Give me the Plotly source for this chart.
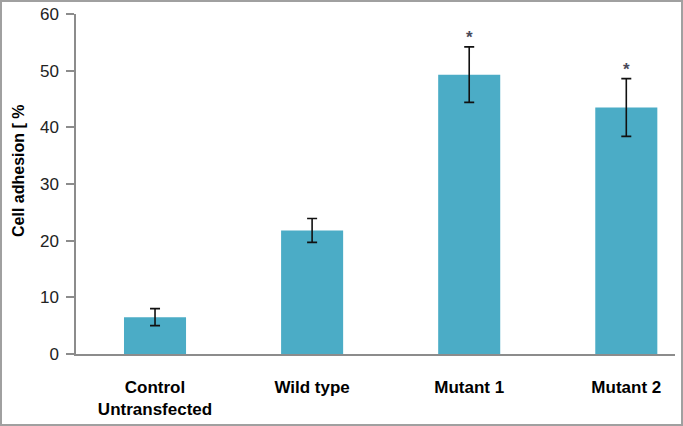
import plotly.graph_objects as go

categories = ["Control<br>Untransfected", "Wild type", "Mutant 1", "Mutant 2"]
adhesion = [6.5, 21.8, 49.3, 43.5]
error = [1.5, 2.1, 4.9, 5.1]
significant = ["", "", "*", "*"]
y_ticks = [0, 10, 20, 30, 40, 50, 60]

fig = go.Figure()
fig.add_trace(go.Bar(
    x=list(range(len(categories))), y=adhesion,
    width=0.395,
    marker=dict(color="#4BACC6", line=dict(width=0)),
    error_y=dict(type="data", array=error, visible=True, color="#111111",
                 thickness=1.6, width=5),
    showlegend=False,
))

for i, s in enumerate(significant):
    if s:
        fig.add_annotation(x=i, y=adhesion[i] + error[i], text="<b>" + s + "</b>", showarrow=False,
                           yanchor="bottom", yshift=-2,
                           font=dict(family="Liberation Sans", size=17, color="#4a4a5a"))

fig.add_annotation(xref="paper", yref="paper", x=(18 - 76) / 599, y=(354 - 171) / 340,
                   text="<b>Cell adhesion [ %</b>",
                   textangle=-90, showarrow=False, xanchor="center", yanchor="middle",
                   font=dict(family="Liberation Sans", size=16, color="#000000"))

fig.update_layout(
    width=683, height=426,
    margin=dict(l=76, r=8, t=14, b=72, autoexpand=False),
    paper_bgcolor="white", plot_bgcolor="white",
    xaxis=dict(
        tickmode="array", tickvals=list(range(len(categories))), ticktext=categories,
        range=[-0.503, 3.31], showgrid=False, zeroline=False, automargin=False,
        showline=True, linecolor="#8c8c8c", linewidth=1.5,
        ticks="", ticklabelstandoff=17,
        tickfont=dict(family="Liberation Sans", size=17, color="#000000", weight="bold"),
    ),
    yaxis=dict(
        range=[0, 60], tickvals=y_ticks, showgrid=False, zeroline=False, automargin=False,
        showline=True, linecolor="#8c8c8c", linewidth=1.5,
        ticks="outside", ticklen=8, tickcolor="#8c8c8c", tickwidth=1.5,
        ticklabelstandoff=4,
        tickfont=dict(family="Liberation Sans", size=17, color="#222222"),
    ),
    shapes=[dict(type="rect", xref="paper", yref="paper",
                 x0=(1 - 76) / 599, x1=(682 - 76) / 599,
                 y0=(354 - 425) / 340, y1=(354 - 1) / 340,
                 line=dict(color="#a0a0a0", width=2), fillcolor="rgba(0,0,0,0)")],
)

fig.write_html("out.html", config={"displayModeBar": False},
               post_script="document.body.style.margin='0';")
